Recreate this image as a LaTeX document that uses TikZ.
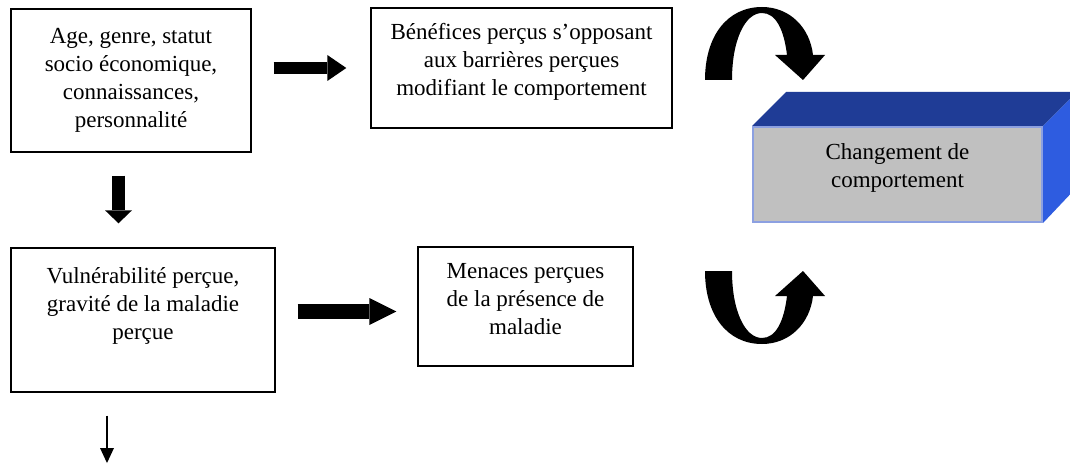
\documentclass[tikz,border=0pt]{standalone}
\usepackage{fontspec}
\setmainfont{Liberation Serif}
\usetikzlibrary{arrows.meta,calc,backgrounds}

\definecolor{topblue}{RGB}{31,60,150}
\definecolor{sideblue}{RGB}{46,92,224}
\definecolor{facegray}{RGB}{192,192,192}
\definecolor{faceedge}{RGB}{140,160,225}

% text block pinned to the top of a fixed-size box: [top gap]{width}{height}{lines}
\newcommand\topbox[4][11pt]{\parbox[c][#3][t]{#2}{\centering\vspace*{#1}\strut #4}}

\tikzset{
  box/.style={draw, line width=1.4pt, inner sep=0pt,
    font=\fontsize{23}{28}\selectfont},
  cubefront/.style={draw=faceedge, fill=facegray, line width=2pt, inner sep=0pt,
    font=\fontsize{23}{28}\selectfont},
  fat/.style={line width=#1, line cap=butt},
  thinarrow/.style={line width=1.3pt, -{Triangle[length=15pt,width=14pt,line width=0pt]}},
  % curved block arrow; the argument 1 bends it over the top, -1 under the bottom
  uturn/.pic={
    \fill[yscale=#1] (0,0) .. controls (0,-45) and (23,-73) .. (57,-73)
      .. controls (85,-73) and (105,-52) .. (108,-25)
      -- (120,-25) -- (98,0) -- (70,-25) -- (82,-25)
      .. controls (79,-50) and (71,-67) .. (57,-67)
      .. controls (40,-67) and (27,-40) .. (27,0) -- cycle;
  }
}

\begin{document}
\begin{tikzpicture}[x=1pt, y=-1pt]
  \useasboundingbox (0,0) rectangle (1070,465);
  \clip (0,0) rectangle (1070,465);

  % text boxes
  \node[box] (b1) at (131,80.5)
    {\topbox[15.4pt]{240pt}{143pt}{Age, genre, statut\\ socio économique,\\ connaissances,\\ personnalité}};
  \node[box] (b2) at (521.5,68)
    {\topbox[12pt]{301pt}{120pt}{Bénéfices perçus s’opposant\\ aux barrières perçues\\ modifiant le comportement}};
  \node[box] (b4) at (143,320)
    {\topbox[16pt]{264pt}{144pt}{Vulnérabilité perçue,\\ gravité de la maladie\\ perçue}};
  \node[box] (b5) at (525.5,306.5)
    {\topbox[12pt]{215pt}{119pt}{Menaces perçues\\ de la présence de\\ maladie}};

  % the block for the behaviour change, with its top and side faces
  \node[cubefront] (chg) at (897.5,174.5)
    {\topbox[13.4pt]{289pt}{95pt}{Changement de\\ comportement}};
  \begin{scope}[on background layer]
    \fill[white] (0,0) rectangle (1070,465);
    \fill[topblue] (chg.north west) -- ++(34,-34)
      -- ($(chg.north east)+(34,-34)$) -- (chg.north east) -- cycle;
    \fill[sideblue] (chg.north east) -- ++(34,-34) -- ++(0,95)
      -- (chg.south east) -- cycle;
  \end{scope}

  % block arrows
  \draw[fat=12pt, -{Triangle[width=26pt,length=19pt,line width=0pt]},
        shorten <=22pt, shorten >=24pt]
    (b1.east |- b2.west) -- (b2.west);
  \draw[fat=13pt, -{Triangle[width=27pt,length=13pt,line width=0pt]},
        shorten <=23pt, shorten >=24pt]
    ([xshift=-12.5pt]b1.south) -- ([xshift=-12.5pt]b1.south |- b4.north);
  \draw[fat=15pt, -{Triangle[width=27pt,length=27pt,line width=0pt]},
        shorten <=22pt, shorten >=21pt]
    ($(b4.east |- b5.west)+(0,5)$) -- ($(b5.west)+(0,5)$);

  % thin arrow leaving the lower box
  \coordinate (down) at (107,463);
  \draw[thinarrow, shorten <=23pt] ($(b4.south)+(-36,0)$) -- (down);

  % curved arrows
  \pic at (705,80) {uturn=1};
  \pic at (705,271) {uturn=-1};
\end{tikzpicture}
\end{document}
